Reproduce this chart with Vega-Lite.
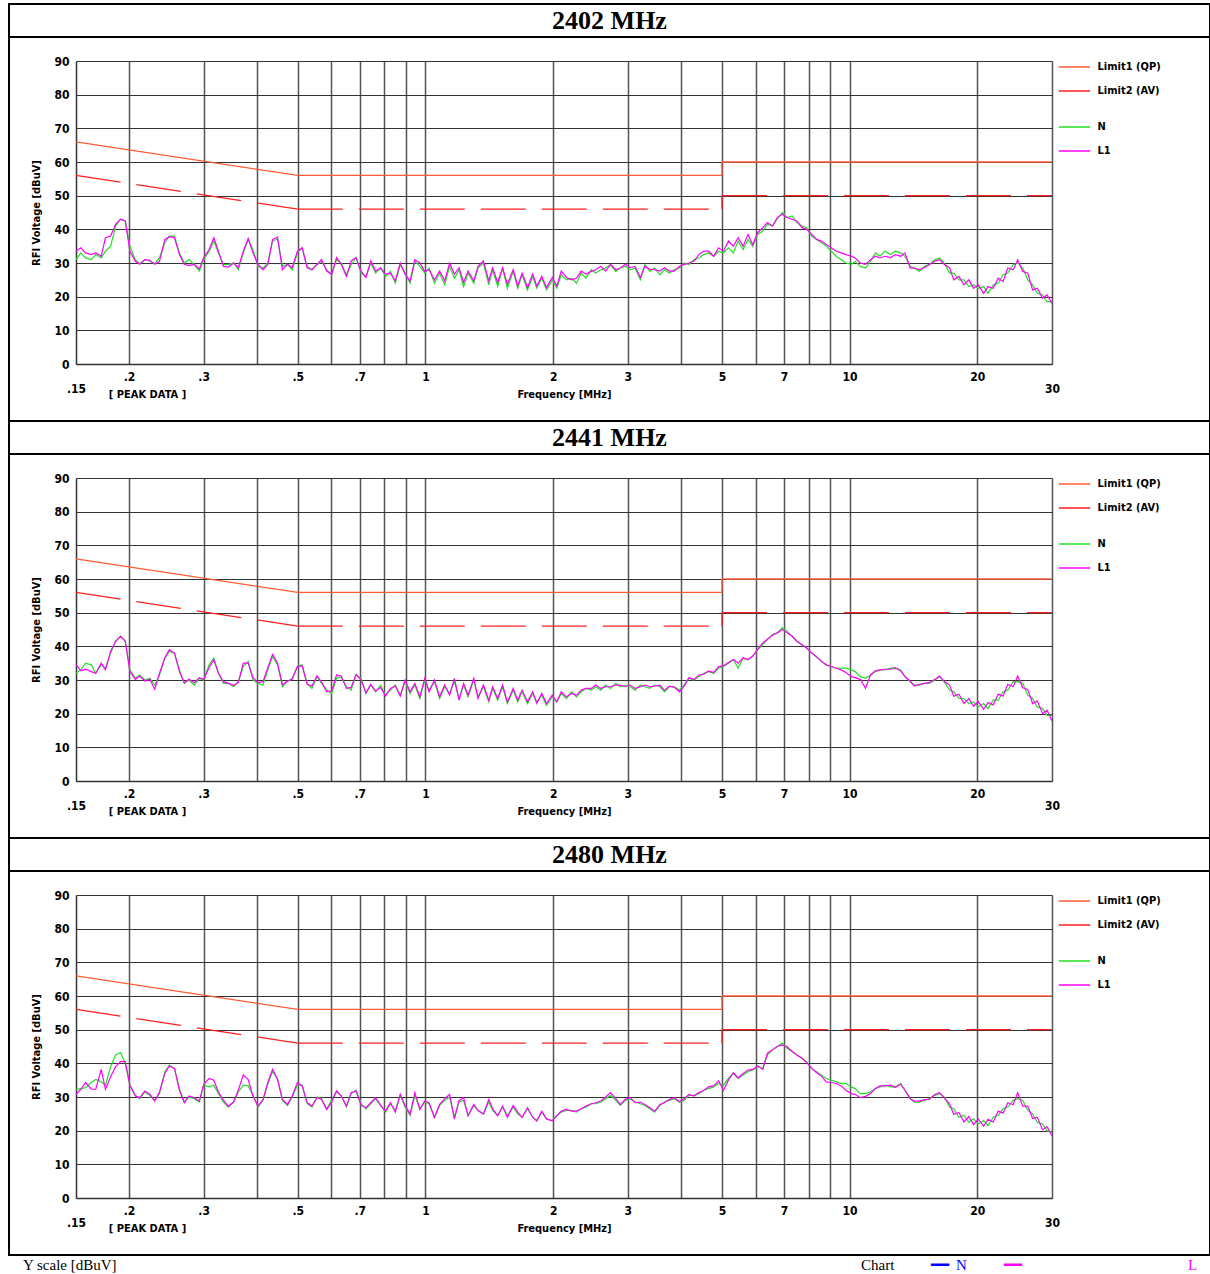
{
"$schema": "https://vega.github.io/schema/vega-lite/v6.json",
"padding": {"left": 8, "top": 3, "right": 1, "bottom": 0},
"background": "white",
"spacing": 0,
"bounds": "flush",
"config": {"view": {"stroke": "black", "strokeWidth": 2},
 "axis": {"labelColor": "black", "titleColor": "black", "labelFont": "Liberation Sans Narrow, DejaVu Sans Condensed, sans-serif", "titleFont": "Liberation Sans Narrow, DejaVu Sans Condensed, sans-serif", "labelFontWeight": "bold", "titleFontWeight": "bold", "labelFontSize": 12, "titleFontSize": 11, "ticks": false},
 "legend": {"padding": 0, "orient": "none", "symbolType": "M-3,0H3", "symbolSize": 110, "symbolStrokeWidth": 1.3, "labelFont": "Liberation Sans Narrow, DejaVu Sans Condensed, sans-serif", "labelFontSize": 11, "labelFontWeight": "bold", "labelOffset": 17, "labelColor": "black"}},
"datasets": {
"lim": [
{"s":"QP","g":1,"f":0.15,"v":66},{"s":"QP","g":1,"f":0.5,"v":56},{"s":"QP","g":1,"f":5,"v":56},
{"s":"QP","g":2,"f":5,"v":56},{"s":"QP","g":2,"f":5,"v":60},
{"s":"QP","g":3,"f":5,"v":60},{"s":"QP","g":3,"f":30,"v":60},
{"s":"AV","g":4,"f":0.15,"v":56},{"s":"AV","g":4,"f":0.5,"v":46},
{"s":"AV","g":5,"f":0.5,"v":46},{"s":"AV","g":5,"f":5,"v":46},
{"s":"AV","g":6,"f":5,"v":46},{"s":"AV","g":6,"f":5,"v":50},
{"s":"AV","g":7,"f":5,"v":50},{"s":"AV","g":7,"f":30,"v":50}
],
"tr": [
{"f":0.150,"a":31,"b":33.5,"c":32,"d":34.6,"e":32.3,"g":30.8},
{"f":0.154,"a":33,"b":34.5,"c":33,"d":32.7,"e":32.5,"g":32.3},
{"f":0.158,"a":31.5,"b":33,"c":35,"d":33.2,"e":32.8,"g":34.3},
{"f":0.163,"a":31,"b":32.5,"c":34.5,"d":32.5,"e":34.3,"g":32.3},
{"f":0.167,"a":32.5,"b":33,"c":32,"d":32,"e":35.2,"g":32.3},
{"f":0.172,"a":31.5,"b":32,"c":34.5,"d":35,"e":34.5,"g":38.2},
{"f":0.176,"a":33.5,"b":37.5,"c":33.5,"d":33,"e":33.5,"g":32.3},
{"f":0.181,"a":35,"b":38,"c":38,"d":38.5,"e":39,"g":36},
{"f":0.186,"a":41,"b":41.5,"c":41.5,"d":41.5,"e":42.5,"g":39},
{"f":0.191,"a":43,"b":43,"c":43,"d":43,"e":43.2,"g":40.5},
{"f":0.196,"a":42.5,"b":42.5,"c":41.5,"d":41.6,"e":40,"g":40.5},
{"f":0.201,"a":35,"b":33.5,"c":33,"d":32.5,"e":33.5,"g":33.5},
{"f":0.207,"a":31,"b":30.5,"c":30.5,"d":30.2,"e":30.5,"g":30.3},
{"f":0.212,"a":29.8,"b":29.6,"c":31.5,"d":31.2,"e":29.5,"g":29.8},
{"f":0.218,"a":31,"b":31,"c":30,"d":29.7,"e":31.5,"g":31.8},
{"f":0.224,"a":30.6,"b":30.8,"c":30.5,"d":30.2,"e":30.5,"g":30.8},
{"f":0.230,"a":29.8,"b":29.6,"c":28.5,"d":27.2,"e":29,"g":28.8},
{"f":0.236,"a":31.6,"b":30.5,"c":31.5,"d":32,"e":31,"g":31.5},
{"f":0.243,"a":36,"b":37,"c":36.5,"d":36.6,"e":37.5,"g":37},
{"f":0.249,"a":38,"b":37.8,"c":38.5,"d":39,"e":39.5,"g":39.2},
{"f":0.256,"a":38,"b":37.5,"c":38,"d":38,"e":38.5,"g":38.5},
{"f":0.263,"a":33,"b":32.5,"c":33,"d":32.5,"e":32.5,"g":32},
{"f":0.270,"a":30,"b":29.6,"c":29,"d":29.2,"e":28.5,"g":28.3},
{"f":0.277,"a":31,"b":29.2,"c":30,"d":30.2,"e":30,"g":30.3},
{"f":0.285,"a":29.5,"b":29.6,"c":28.5,"d":29.2,"e":29.5,"g":29.8},
{"f":0.293,"a":27.6,"b":28.2,"c":30.5,"d":30.7,"e":28.5,"g":28.8},
{"f":0.300,"a":31,"b":31.6,"c":30,"d":30.2,"e":33.5,"g":33.8},
{"f":0.309,"a":33.5,"b":34,"c":34.5,"d":33.7,"e":33,"g":35.5},
{"f":0.317,"a":36.5,"b":37.5,"c":36.5,"d":36,"e":33.5,"g":35},
{"f":0.325,"a":33,"b":33.5,"c":32,"d":32,"e":31,"g":31.5},
{"f":0.334,"a":29.5,"b":29,"c":29,"d":29.5,"e":28.5,"g":29},
{"f":0.343,"a":29.5,"b":28.8,"c":29,"d":29,"e":27,"g":27.3},
{"f":0.353,"a":30,"b":30,"c":28,"d":28.4,"e":28.5,"g":28.5},
{"f":0.362,"a":28,"b":28.6,"c":29.5,"d":29.2,"e":31.5,"g":32},
{"f":0.372,"a":33,"b":33.5,"c":34,"d":35,"e":33.5,"g":36.5},
{"f":0.382,"a":37,"b":37.3,"c":35.5,"d":35,"e":33.3,"g":35.2},
{"f":0.392,"a":34,"b":33,"c":30,"d":30.7,"e":30.5,"g":30.3},
{"f":0.403,"a":29,"b":29.6,"c":29,"d":29.2,"e":27,"g":27.3},
{"f":0.414,"a":28.5,"b":28,"c":28.5,"d":29.5,"e":29,"g":29.3},
{"f":0.425,"a":30,"b":29.6,"c":33,"d":33.7,"e":34,"g":34.3},
{"f":0.436,"a":36.5,"b":37,"c":37,"d":37.6,"e":37.5,"g":38.2},
{"f":0.448,"a":37.2,"b":37.7,"c":34.5,"d":35,"e":35.5,"g":35.2},
{"f":0.460,"a":29,"b":28,"c":28,"d":28.6,"e":29,"g":29.3},
{"f":0.473,"a":29.6,"b":29.6,"c":29.5,"d":29.7,"e":27.5,"g":27.8},
{"f":0.485,"a":28,"b":28.6,"c":30.5,"d":30.2,"e":30,"g":30.3},
{"f":0.499,"a":33,"b":33.5,"c":34,"d":34,"e":33.5,"g":34.3},
{"f":0.512,"a":34.5,"b":34.5,"c":34.5,"d":34.2,"e":33.5,"g":33.3},
{"f":0.526,"a":29,"b":28.6,"c":29,"d":28.7,"e":28,"g":28.3},
{"f":0.540,"a":28,"b":28,"c":27.5,"d":28.2,"e":27,"g":27.3},
{"f":0.555,"a":29.5,"b":29.6,"c":31,"d":31.2,"e":30,"g":29.8},
{"f":0.569,"a":30.5,"b":31,"c":29,"d":29.4,"e":29.5,"g":29.3},
{"f":0.585,"a":28,"b":27.6,"c":27,"d":26.5,"e":26.5,"g":26.3},
{"f":0.601,"a":26.5,"b":26.6,"c":26,"d":26.8,"e":29,"g":28.5},
{"f":0.617,"a":31,"b":31.6,"c":30.5,"d":31.5,"e":31.5,"g":31.8},
{"f":0.633,"a":30,"b":29.6,"c":31,"d":31.2,"e":30.5,"g":30.3},
{"f":0.651,"a":26.5,"b":26,"c":28,"d":27.5,"e":27,"g":27.3},
{"f":0.668,"a":29.5,"b":30.6,"c":27,"d":27.8,"e":31,"g":31.3},
{"f":0.686,"a":31.5,"b":31.6,"c":31.5,"d":31.7,"e":32,"g":31.8},
{"f":0.705,"a":27,"b":27.5,"c":30.5,"d":30,"e":28,"g":27.5},
{"f":0.724,"a":26,"b":25.7,"c":26,"d":26.2,"e":26.5,"g":26.8},
{"f":0.743,"a":30,"b":30.6,"c":28.5,"d":28.7,"e":28,"g":28.3},
{"f":0.763,"a":27,"b":27.6,"c":26.5,"d":26.7,"e":29.5,"g":29.8},
{"f":0.784,"a":28.5,"b":28.6,"c":28.5,"d":27.8,"e":27.5,"g":27.5},
{"f":0.805,"a":26,"b":26.7,"c":25.5,"d":25.2,"e":25.5,"g":25.8},
{"f":0.827,"a":27.5,"b":27,"c":27,"d":27.5,"e":28,"g":28.3},
{"f":0.849,"a":24,"b":24.7,"c":28.5,"d":28.2,"e":26,"g":25.5},
{"f":0.872,"a":29.5,"b":30,"c":25.5,"d":25.2,"e":30.5,"g":30.8},
{"f":0.895,"a":27,"b":26.7,"c":29.5,"d":30,"e":27,"g":27.5},
{"f":0.920,"a":24,"b":24.7,"c":26,"d":26.5,"e":24.5,"g":24.9},
{"f":0.944,"a":30.5,"b":31,"c":28.5,"d":29,"e":30.5,"g":31.3},
{"f":0.970,"a":29,"b":30,"c":24.5,"d":25,"e":26.5,"g":26.3},
{"f":0.996,"a":27,"b":27.5,"c":30,"d":30.5,"e":28.5,"g":28.8},
{"f":1.02,"a":28.5,"b":28,"c":27,"d":26.5,"e":28,"g":28.3},
{"f":1.05,"a":24,"b":25,"c":29.5,"d":30,"e":24,"g":23.9},
{"f":1.08,"a":27,"b":27.6,"c":24.5,"d":25,"e":27.5,"g":27.8},
{"f":1.11,"a":23.5,"b":24.7,"c":28,"d":28.5,"e":29,"g":29.5},
{"f":1.14,"a":29,"b":30,"c":26,"d":25.5,"e":30,"g":30.8},
{"f":1.17,"a":25.5,"b":26.7,"c":29.5,"d":30.5,"e":24,"g":23.4},
{"f":1.20,"a":28,"b":28.6,"c":24.5,"d":24,"e":28.5,"g":29},
{"f":1.23,"a":23,"b":24.2,"c":28.5,"d":29,"e":29,"g":29.8},
{"f":1.26,"a":27,"b":27.6,"c":25,"d":25.5,"e":24.5,"g":24.4},
{"f":1.30,"a":24,"b":24.7,"c":30,"d":30.5,"e":27.5,"g":27.8},
{"f":1.33,"a":28.5,"b":29,"c":25,"d":24.5,"e":26,"g":26},
{"f":1.37,"a":30,"b":30.6,"c":28,"d":28.5,"e":25,"g":24.9},
{"f":1.41,"a":23.5,"b":24.7,"c":23.5,"d":24,"e":28.5,"g":29.3},
{"f":1.44,"a":28,"b":28.6,"c":27.5,"d":28,"e":26,"g":26.5},
{"f":1.48,"a":23,"b":24.2,"c":24,"d":24.5,"e":24.5,"g":24.4},
{"f":1.52,"a":28.5,"b":28.6,"c":28,"d":28.5,"e":27,"g":27.3},
{"f":1.56,"a":22.5,"b":23.7,"c":23,"d":23.5,"e":24.5,"g":24},
{"f":1.61,"a":27.5,"b":28,"c":27,"d":27.5,"e":27,"g":27.5},
{"f":1.65,"a":22.5,"b":23.2,"c":23.5,"d":24,"e":25,"g":25.5},
{"f":1.69,"a":26.5,"b":27,"c":26.5,"d":27,"e":24,"g":23.9},
{"f":1.74,"a":22,"b":22.7,"c":23,"d":23.5,"e":26.5,"g":26.8},
{"f":1.79,"a":26,"b":26.7,"c":26,"d":26.5,"e":24,"g":24},
{"f":1.83,"a":22.5,"b":23.2,"c":23.5,"d":23,"e":23,"g":22.9},
{"f":1.88,"a":25.5,"b":26,"c":25.5,"d":26,"e":25.5,"g":25.8},
{"f":1.93,"a":22,"b":22.7,"c":22.5,"d":23,"e":23.5,"g":23.5},
{"f":1.99,"a":25,"b":25.7,"c":25,"d":25.5,"e":23,"g":22.9},
{"f":2.04,"a":22.5,"b":23.2,"c":23.5,"d":23.5,"e":24.5,"g":24.4},
{"f":2.09,"a":26.5,"b":27.6,"c":26,"d":26.5,"e":25.5,"g":25.8},
{"f":2.15,"a":25,"b":25.7,"c":24.5,"d":25,"e":26,"g":26.3},
{"f":2.21,"a":25.5,"b":25,"c":26.5,"d":26,"e":26,"g":25.8},
{"f":2.27,"a":24,"b":25.5,"c":25,"d":25.5,"e":25.5,"g":25.8},
{"f":2.33,"a":27,"b":27.6,"c":26.5,"d":27,"e":26.5,"g":26.5},
{"f":2.39,"a":25.5,"b":26.7,"c":27.5,"d":27.5,"e":27,"g":27.3},
{"f":2.46,"a":28,"b":27.5,"c":27,"d":27.5,"e":28,"g":28},
{"f":2.52,"a":27,"b":28,"c":28,"d":28.5,"e":28,"g":28.3},
{"f":2.59,"a":28,"b":29,"c":27,"d":27.5,"e":28.5,"g":28.8},
{"f":2.66,"a":28.5,"b":27.6,"c":28.5,"d":28,"e":29.5,"g":30},
{"f":2.73,"a":29.5,"b":29.6,"c":27.5,"d":28,"e":30.5,"g":31.3},
{"f":2.81,"a":27.5,"b":28,"c":29,"d":28.5,"e":29,"g":29.5},
{"f":2.88,"a":28.5,"b":28.5,"c":28,"d":28.5,"e":27.5,"g":27.8},
{"f":2.96,"a":29,"b":29.6,"c":28.5,"d":28,"e":29,"g":29.3},
{"f":3.04,"a":28,"b":28.6,"c":28,"d":28.5,"e":29.5,"g":29.8},
{"f":3.12,"a":28.5,"b":29,"c":27,"d":27.5,"e":28.5,"g":28.3},
{"f":3.21,"a":25,"b":25.7,"c":28.5,"d":28,"e":28,"g":28.5},
{"f":3.29,"a":29.5,"b":29,"c":28,"d":28.5,"e":27.5,"g":27.8},
{"f":3.38,"a":27.5,"b":28.2,"c":27.5,"d":28,"e":26.5,"g":26.8},
{"f":3.47,"a":28.5,"b":28,"c":28.5,"d":28.2,"e":25.5,"g":25.8},
{"f":3.57,"a":26.5,"b":27.6,"c":28,"d":28.5,"e":27.5,"g":27.8},
{"f":3.66,"a":28,"b":28.6,"c":26.5,"d":27,"e":28.5,"g":28.3},
{"f":3.76,"a":27,"b":27.6,"c":28,"d":28.2,"e":29,"g":29.3},
{"f":3.86,"a":28,"b":27.6,"c":28,"d":27.8,"e":29.5,"g":29.8},
{"f":3.97,"a":28.5,"b":29,"c":27,"d":26.5,"e":28.5,"g":28.6},
{"f":4.07,"a":30,"b":29.5,"c":28.5,"d":28.2,"e":29,"g":29.5},
{"f":4.18,"a":29.5,"b":30,"c":30.5,"d":30.7,"e":30.5,"g":30.8},
{"f":4.30,"a":31,"b":30.6,"c":30,"d":30.2,"e":30.5,"g":30.3},
{"f":4.41,"a":31.5,"b":32.5,"c":31,"d":31.5,"e":31,"g":31.3},
{"f":4.53,"a":32.5,"b":33.5,"c":32,"d":31.7,"e":32,"g":32},
{"f":4.65,"a":33,"b":33.5,"c":32.5,"d":32.7,"e":32.5,"g":33},
{"f":4.78,"a":32,"b":32,"c":32,"d":32.2,"e":33,"g":33.3},
{"f":4.91,"a":33.5,"b":34.5,"c":33.5,"d":34,"e":34,"g":34.8},
{"f":5.04,"a":33,"b":33.5,"c":34,"d":34.2,"e":33.5,"g":32},
{"f":5.18,"a":34.5,"b":36.5,"c":35,"d":35.2,"e":35.5,"g":35},
{"f":5.32,"a":33,"b":35,"c":36,"d":36.1,"e":37,"g":37.2},
{"f":5.46,"a":36.5,"b":37.5,"c":33.5,"d":35,"e":35.5,"g":35.7},
{"f":5.61,"a":34,"b":35,"c":36.5,"d":36.6,"e":36.5,"g":37},
{"f":5.76,"a":37,"b":38.5,"c":36,"d":36.1,"e":37.5,"g":38},
{"f":5.91,"a":35,"b":35.5,"c":37,"d":37.1,"e":38,"g":38.2},
{"f":6.07,"a":38.5,"b":39,"c":39,"d":39.1,"e":39,"g":39.2},
{"f":6.24,"a":39.5,"b":40.5,"c":40.5,"d":41,"e":38.5,"g":38.2},
{"f":6.40,"a":41.5,"b":42,"c":42,"d":42.1,"e":42.5,"g":43},
{"f":6.58,"a":41,"b":41,"c":43.5,"d":43.3,"e":44,"g":44},
{"f":6.75,"a":43,"b":43.5,"c":44,"d":44,"e":45,"g":45},
{"f":6.94,"a":45,"b":44.5,"c":45.5,"d":45,"e":46,"g":45.5},
{"f":7.12,"a":43.5,"b":43.5,"c":44.5,"d":44,"e":44.5,"g":45},
{"f":7.32,"a":44,"b":43,"c":43,"d":43,"e":43.5,"g":43.5},
{"f":7.51,"a":42,"b":42.5,"c":41.5,"d":41.5,"e":42.5,"g":42.5},
{"f":7.72,"a":41,"b":40.5,"c":40.5,"d":40.5,"e":41.5,"g":41.5},
{"f":7.92,"a":40.5,"b":40,"c":39.5,"d":39.5,"e":40.5,"g":40.2},
{"f":8.14,"a":38,"b":38.5,"c":38,"d":38,"e":38.5,"g":38.5},
{"f":8.36,"a":37,"b":37,"c":37,"d":36.8,"e":37.5,"g":37.2},
{"f":8.58,"a":36,"b":36.5,"c":35.5,"d":35.6,"e":36.5,"g":36.2},
{"f":8.81,"a":35,"b":35.5,"c":34.5,"d":34.5,"e":35.5,"g":34.5},
{"f":9.05,"a":33.5,"b":34.5,"c":34,"d":34,"e":35,"g":34.3},
{"f":9.30,"a":32,"b":33.5,"c":33.5,"d":33.5,"e":34.5,"g":34},
{"f":9.55,"a":31,"b":33,"c":33.5,"d":33,"e":34,"g":33.3},
{"f":9.80,"a":30,"b":32.5,"c":33.5,"d":32.2,"e":34,"g":32},
{"f":10.1,"a":29.6,"b":32,"c":33,"d":31,"e":33,"g":31},
{"f":10.3,"a":30.5,"b":31.5,"c":32.5,"d":30.7,"e":32.5,"g":30.8},
{"f":10.6,"a":29,"b":30,"c":31,"d":30.2,"e":31,"g":29.8},
{"f":10.9,"a":28.5,"b":29.6,"c":30.5,"d":27.5,"e":31,"g":30.2},
{"f":11.2,"a":30.5,"b":31,"c":31.5,"d":31.5,"e":31.5,"g":31},
{"f":11.5,"a":33,"b":32,"c":32.5,"d":32.7,"e":32.5,"g":32.5},
{"f":11.8,"a":32,"b":31.5,"c":33,"d":33,"e":33,"g":33.3},
{"f":12.1,"a":33.5,"b":32,"c":33,"d":33.2,"e":33.5,"g":33.3},
{"f":12.5,"a":32.5,"b":31.6,"c":33.5,"d":33.2,"e":33,"g":33.5},
{"f":12.8,"a":33.5,"b":32.5,"c":33.5,"d":33.7,"e":33,"g":32.8},
{"f":13.2,"a":33,"b":32,"c":33,"d":32.7,"e":34,"g":33.8},
{"f":13.5,"a":32,"b":33,"c":31,"d":31,"e":32,"g":32},
{"f":13.9,"a":29,"b":28.5,"c":29.5,"d":29.7,"e":29.5,"g":29.5},
{"f":14.2,"a":28.5,"b":28.5,"c":28.5,"d":28.2,"e":28.5,"g":28.8},
{"f":14.6,"a":27.5,"b":28,"c":28.5,"d":28.7,"e":28.5,"g":28.8},
{"f":15.0,"a":29,"b":28.6,"c":29,"d":29,"e":29,"g":29.2},
{"f":15.4,"a":29.5,"b":29.5,"c":29,"d":29.2,"e":29.5,"g":29.3},
{"f":15.9,"a":31,"b":30.6,"c":30,"d":30.2,"e":30.5,"g":30.8},
{"f":16.3,"a":31.5,"b":31,"c":31,"d":31.2,"e":31,"g":31.3},
{"f":16.7,"a":30,"b":29.6,"c":29.5,"d":29.6,"e":30,"g":29.8},
{"f":17.2,"a":27,"b":28.6,"c":27,"d":28.5,"e":27,"g":28},
{"f":17.6,"a":27,"b":25,"c":26.5,"d":25.2,"e":26.5,"g":24.8},
{"f":18.1,"a":25,"b":26,"c":24.5,"d":25.8,"e":24,"g":25.4},
{"f":18.6,"a":25,"b":23.5,"c":24.5,"d":23,"e":24.5,"g":22.6},
{"f":19.1,"a":23,"b":25,"c":23,"d":24.5,"e":22.5,"g":24.2},
{"f":19.6,"a":23.5,"b":22.5,"c":23.5,"d":22.2,"e":23.5,"g":21.8},
{"f":20.1,"a":22.5,"b":23.5,"c":22,"d":23.6,"e":22,"g":23.5},
{"f":20.7,"a":23,"b":21,"c":23,"d":21.3,"e":23,"g":21.3},
{"f":21.2,"a":21,"b":23,"c":21.5,"d":23.3,"e":21.5,"g":23.4},
{"f":21.8,"a":23.5,"b":22.5,"c":24,"d":22.6,"e":24,"g":22.6},
{"f":22.4,"a":24,"b":25.5,"c":24,"d":25.8,"e":24.5,"g":25.8},
{"f":23.0,"a":26.5,"b":24.5,"c":26.5,"d":25.2,"e":26.5,"g":25.2},
{"f":23.6,"a":27,"b":28.5,"c":27,"d":28.7,"e":27,"g":28.3},
{"f":24.3,"a":29.5,"b":28,"c":29.5,"d":28,"e":29,"g":27.7},
{"f":24.9,"a":30,"b":31,"c":29.5,"d":31.2,"e":29.5,"g":31.3},
{"f":25.6,"a":28.5,"b":27.5,"c":29,"d":27.7,"e":29,"g":27.3},
{"f":26.3,"a":25,"b":27,"c":25.5,"d":27.2,"e":26,"g":27.3},
{"f":27.0,"a":23.5,"b":22,"c":24.5,"d":23,"e":25,"g":23.6},
{"f":27.7,"a":21,"b":22.5,"c":22,"d":23.8,"e":22.5,"g":24},
{"f":28.5,"a":20.5,"b":19.5,"c":21.5,"d":20,"e":22,"g":20.3},
{"f":29.2,"a":18.5,"b":20.5,"c":19.5,"d":21,"e":20,"g":21.2},
{"f":30.0,"a":18.5,"b":18,"c":19.5,"d":17.8,"e":19.5,"g":18.4}
]
},
"vconcat": [
{"width": 1201, "height": 33, "data": {"values": [{"t": "2402 MHz"}]}, "mark": {"type": "text", "font": "Liberation Serif", "fontSize": 26, "fontWeight": "bold", "align": "center", "baseline": "middle", "color": "black"}, "encoding": {"x": {"field": "t", "type": "nominal", "axis": null}, "text": {"field": "t"}}},
{
"width": 1201, "height": 384,
"encoding": {"y": {"field": "v", "type": "quantitative", "scale": {"domain": [0, 90], "range": [327, 24], "nice": false, "zero": false},
 "axis": {"orient": "left", "offset": -67, "values": [0,10,20,30,40,50,60,70,80,90], "grid": true, "gridColor": "#333", "gridWidth": 1, "domainColor": "#333", "domainWidth": 1.5, "labelPadding": 7, "title": "RFI Voltage [dBuV]", "titlePadding": 12}}},
"layer": [
 {"data": {"name": "lim"}, "transform": [{"filter": "datum.s == 'QP'"}], "mark": {"type": "line", "strokeWidth": 1.3},
  "encoding": {"x": {"field": "f", "type": "quantitative", "scale": {"type": "log", "domain": [0.15, 30], "range": [67, 1043], "nice": false},
     "axis": {"orient": "top", "values": [0.2,0.3,0.4,0.5,0.6,0.7,0.8,0.9,1,2,3,4,5,6,7,8,9,10,20,30], "grid": true, "gridColor": "#555", "gridWidth": 1.5, "labels": false, "domain": false, "title": null}},
   "detail": {"field": "g", "type": "nominal"},
   "color": {"datum": "Limit1 (QP)", "scale": {"range": ["#ff5a36"]}, "legend": {"legendX": 1059.5, "legendY": 24, "title": null}}}},
 {"data": {"name": "lim"}, "transform": [{"filter": "datum.s == 'AV'"}], "mark": {"type": "line", "strokeWidth": 1.3, "strokeDash": [45, 16]},
  "encoding": {"x": {"field": "f", "type": "quantitative", "scale": {"type": "log", "domain": [0.15, 30], "range": [67, 1043], "nice": false},
     "axis": {"orient": "bottom", "offset": -57, "values": [0.15,0.2,0.3,0.5,0.7,1,2,3,5,7,10,20,30], "labelExpr": "datum.value < 1 ? slice(toString(datum.value), 1) : toString(datum.value)", "grid": false, "domain": true, "domainColor": "#333", "domainWidth": 1.5, "labelOverlap": false, "labelFlush": false, "labelPadding": {"condition": {"test": "datum.value == 0.15 || datum.value == 30", "value": 19}, "value": 7}, "title": "Frequency [MHz]", "titleX": 555, "titleY": 30, "titleBaseline": "middle", "titleAlign": "center"}},
   "detail": {"field": "g", "type": "nominal"},
   "color": {"datum": "Limit2 (AV)", "scale": {"range": ["#ff2020"]}, "legend": {"legendX": 1059.5, "legendY": 48, "title": null, "symbolDash": [1, 0]}}}},
 {"data": {"name": "tr"}, "transform": [{"fold": ["a"], "as": ["s", "v"]}], "mark": {"type": "line", "strokeWidth": 1.2},
  "encoding": {"x": {"field": "f", "type": "quantitative", "scale": {"type": "log", "domain": [0.15, 30], "range": [67, 1043], "nice": false},
     "axis": {"orient": "bottom", "offset": -57, "values": [], "grid": false, "labels": false, "domain": false, "title": "[ PEAK DATA ]", "titleX": 138, "titleY": 30, "titleBaseline": "middle", "titleAlign": "center"}},
   "color": {"datum": "N", "scale": {"range": ["#22e022"]}, "legend": {"legendX": 1059.5, "legendY": 84, "title": null}}}},
 {"data": {"name": "tr"}, "transform": [{"fold": ["b"], "as": ["s", "v"]}], "mark": {"type": "line", "strokeWidth": 1.2},
  "encoding": {"x": {"field": "f", "type": "quantitative", "scale": {"type": "log", "domain": [0.15, 30], "range": [67, 1043], "nice": false}, "axis": null},
   "color": {"datum": "L1", "scale": {"range": ["#ff00ff"]}, "legend": {"legendX": 1059.5, "legendY": 108, "title": null}}}}
],
"resolve": {"axis": {"x": "independent"}, "scale": {"color": "independent"}}
},
{"width": 1201, "height": 33, "data": {"values": [{"t": "2441 MHz"}]}, "mark": {"type": "text", "font": "Liberation Serif", "fontSize": 26, "fontWeight": "bold", "align": "center", "baseline": "middle", "color": "black"}, "encoding": {"x": {"field": "t", "type": "nominal", "axis": null}, "text": {"field": "t"}}},
{
"width": 1201, "height": 384,
"encoding": {"y": {"field": "v", "type": "quantitative", "scale": {"domain": [0, 90], "range": [327, 24], "nice": false, "zero": false},
 "axis": {"orient": "left", "offset": -67, "values": [0,10,20,30,40,50,60,70,80,90], "grid": true, "gridColor": "#333", "gridWidth": 1, "domainColor": "#333", "domainWidth": 1.5, "labelPadding": 7, "title": "RFI Voltage [dBuV]", "titlePadding": 12}}},
"layer": [
 {"data": {"name": "lim"}, "transform": [{"filter": "datum.s == 'QP'"}], "mark": {"type": "line", "strokeWidth": 1.3},
  "encoding": {"x": {"field": "f", "type": "quantitative", "scale": {"type": "log", "domain": [0.15, 30], "range": [67, 1043], "nice": false},
     "axis": {"orient": "top", "values": [0.2,0.3,0.4,0.5,0.6,0.7,0.8,0.9,1,2,3,4,5,6,7,8,9,10,20,30], "grid": true, "gridColor": "#555", "gridWidth": 1.5, "labels": false, "domain": false, "title": null}},
   "detail": {"field": "g", "type": "nominal"},
   "color": {"datum": "Limit1 (QP)", "scale": {"range": ["#ff5a36"]}, "legend": {"legendX": 1059.5, "legendY": 24, "title": null}}}},
 {"data": {"name": "lim"}, "transform": [{"filter": "datum.s == 'AV'"}], "mark": {"type": "line", "strokeWidth": 1.3, "strokeDash": [45, 16]},
  "encoding": {"x": {"field": "f", "type": "quantitative", "scale": {"type": "log", "domain": [0.15, 30], "range": [67, 1043], "nice": false},
     "axis": {"orient": "bottom", "offset": -57, "values": [0.15,0.2,0.3,0.5,0.7,1,2,3,5,7,10,20,30], "labelExpr": "datum.value < 1 ? slice(toString(datum.value), 1) : toString(datum.value)", "grid": false, "domain": true, "domainColor": "#333", "domainWidth": 1.5, "labelOverlap": false, "labelFlush": false, "labelPadding": {"condition": {"test": "datum.value == 0.15 || datum.value == 30", "value": 19}, "value": 7}, "title": "Frequency [MHz]", "titleX": 555, "titleY": 30, "titleBaseline": "middle", "titleAlign": "center"}},
   "detail": {"field": "g", "type": "nominal"},
   "color": {"datum": "Limit2 (AV)", "scale": {"range": ["#ff2020"]}, "legend": {"legendX": 1059.5, "legendY": 48, "title": null, "symbolDash": [1, 0]}}}},
 {"data": {"name": "tr"}, "transform": [{"fold": ["c"], "as": ["s", "v"]}], "mark": {"type": "line", "strokeWidth": 1.2},
  "encoding": {"x": {"field": "f", "type": "quantitative", "scale": {"type": "log", "domain": [0.15, 30], "range": [67, 1043], "nice": false},
     "axis": {"orient": "bottom", "offset": -57, "values": [], "grid": false, "labels": false, "domain": false, "title": "[ PEAK DATA ]", "titleX": 138, "titleY": 30, "titleBaseline": "middle", "titleAlign": "center"}},
   "color": {"datum": "N", "scale": {"range": ["#22e022"]}, "legend": {"legendX": 1059.5, "legendY": 84, "title": null}}}},
 {"data": {"name": "tr"}, "transform": [{"fold": ["d"], "as": ["s", "v"]}], "mark": {"type": "line", "strokeWidth": 1.2},
  "encoding": {"x": {"field": "f", "type": "quantitative", "scale": {"type": "log", "domain": [0.15, 30], "range": [67, 1043], "nice": false}, "axis": null},
   "color": {"datum": "L1", "scale": {"range": ["#ff00ff"]}, "legend": {"legendX": 1059.5, "legendY": 108, "title": null}}}}
],
"resolve": {"axis": {"x": "independent"}, "scale": {"color": "independent"}}
},
{"width": 1201, "height": 33, "data": {"values": [{"t": "2480 MHz"}]}, "mark": {"type": "text", "font": "Liberation Serif", "fontSize": 26, "fontWeight": "bold", "align": "center", "baseline": "middle", "color": "black"}, "encoding": {"x": {"field": "t", "type": "nominal", "axis": null}, "text": {"field": "t"}}},
{
"width": 1201, "height": 384,
"encoding": {"y": {"field": "v", "type": "quantitative", "scale": {"domain": [0, 90], "range": [327, 24], "nice": false, "zero": false},
 "axis": {"orient": "left", "offset": -67, "values": [0,10,20,30,40,50,60,70,80,90], "grid": true, "gridColor": "#333", "gridWidth": 1, "domainColor": "#333", "domainWidth": 1.5, "labelPadding": 7, "title": "RFI Voltage [dBuV]", "titlePadding": 12}}},
"layer": [
 {"data": {"name": "lim"}, "transform": [{"filter": "datum.s == 'QP'"}], "mark": {"type": "line", "strokeWidth": 1.3},
  "encoding": {"x": {"field": "f", "type": "quantitative", "scale": {"type": "log", "domain": [0.15, 30], "range": [67, 1043], "nice": false},
     "axis": {"orient": "top", "values": [0.2,0.3,0.4,0.5,0.6,0.7,0.8,0.9,1,2,3,4,5,6,7,8,9,10,20,30], "grid": true, "gridColor": "#555", "gridWidth": 1.5, "labels": false, "domain": false, "title": null}},
   "detail": {"field": "g", "type": "nominal"},
   "color": {"datum": "Limit1 (QP)", "scale": {"range": ["#ff5a36"]}, "legend": {"legendX": 1059.5, "legendY": 24, "title": null}}}},
 {"data": {"name": "lim"}, "transform": [{"filter": "datum.s == 'AV'"}], "mark": {"type": "line", "strokeWidth": 1.3, "strokeDash": [45, 16]},
  "encoding": {"x": {"field": "f", "type": "quantitative", "scale": {"type": "log", "domain": [0.15, 30], "range": [67, 1043], "nice": false},
     "axis": {"orient": "bottom", "offset": -57, "values": [0.15,0.2,0.3,0.5,0.7,1,2,3,5,7,10,20,30], "labelExpr": "datum.value < 1 ? slice(toString(datum.value), 1) : toString(datum.value)", "grid": false, "domain": true, "domainColor": "#333", "domainWidth": 1.5, "labelOverlap": false, "labelFlush": false, "labelPadding": {"condition": {"test": "datum.value == 0.15 || datum.value == 30", "value": 19}, "value": 7}, "title": "Frequency [MHz]", "titleX": 555, "titleY": 30, "titleBaseline": "middle", "titleAlign": "center"}},
   "detail": {"field": "g", "type": "nominal"},
   "color": {"datum": "Limit2 (AV)", "scale": {"range": ["#ff2020"]}, "legend": {"legendX": 1059.5, "legendY": 48, "title": null, "symbolDash": [1, 0]}}}},
 {"data": {"name": "tr"}, "transform": [{"fold": ["e"], "as": ["s", "v"]}], "mark": {"type": "line", "strokeWidth": 1.2},
  "encoding": {"x": {"field": "f", "type": "quantitative", "scale": {"type": "log", "domain": [0.15, 30], "range": [67, 1043], "nice": false},
     "axis": {"orient": "bottom", "offset": -57, "values": [], "grid": false, "labels": false, "domain": false, "title": "[ PEAK DATA ]", "titleX": 138, "titleY": 30, "titleBaseline": "middle", "titleAlign": "center"}},
   "color": {"datum": "N", "scale": {"range": ["#22e022"]}, "legend": {"legendX": 1059.5, "legendY": 84, "title": null}}}},
 {"data": {"name": "tr"}, "transform": [{"fold": ["g"], "as": ["s", "v"]}], "mark": {"type": "line", "strokeWidth": 1.2},
  "encoding": {"x": {"field": "f", "type": "quantitative", "scale": {"type": "log", "domain": [0.15, 30], "range": [67, 1043], "nice": false}, "axis": null},
   "color": {"datum": "L1", "scale": {"range": ["#ff00ff"]}, "legend": {"legendX": 1059.5, "legendY": 108, "title": null}}}}
],
"resolve": {"axis": {"x": "independent"}, "scale": {"color": "independent"}}
},
{"width": 1201, "height": 20, "view": {"stroke": null}, "data": {"values": [{"t": "Y scale [dBuV]", "i": 0}, {"t": "Chart", "i": 1}, {"t": "━━", "i": 2}, {"t": "N", "i": 3}, {"t": "━━", "i": 4}, {"t": "L", "i": 5}]},
 "mark": {"type": "text", "align": "left", "baseline": "middle", "font": "Liberation Serif", "fontSize": 15},
 "encoding": {"x": {"field": "i", "type": "quantitative", "scale": {"domain": [0,1,2,3,4,5], "range": [14,852,922,947,995,1179], "zero": false, "nice": false}, "axis": null},
  "text": {"field": "t"},
  "color": {"field": "i", "type": "nominal", "scale": {"domain": [0,1,2,3,4,5], "range": ["black","black","#0000ff","#0000ff","#ff00ff","#ff00ff"]}, "legend": null}}}
]
}
